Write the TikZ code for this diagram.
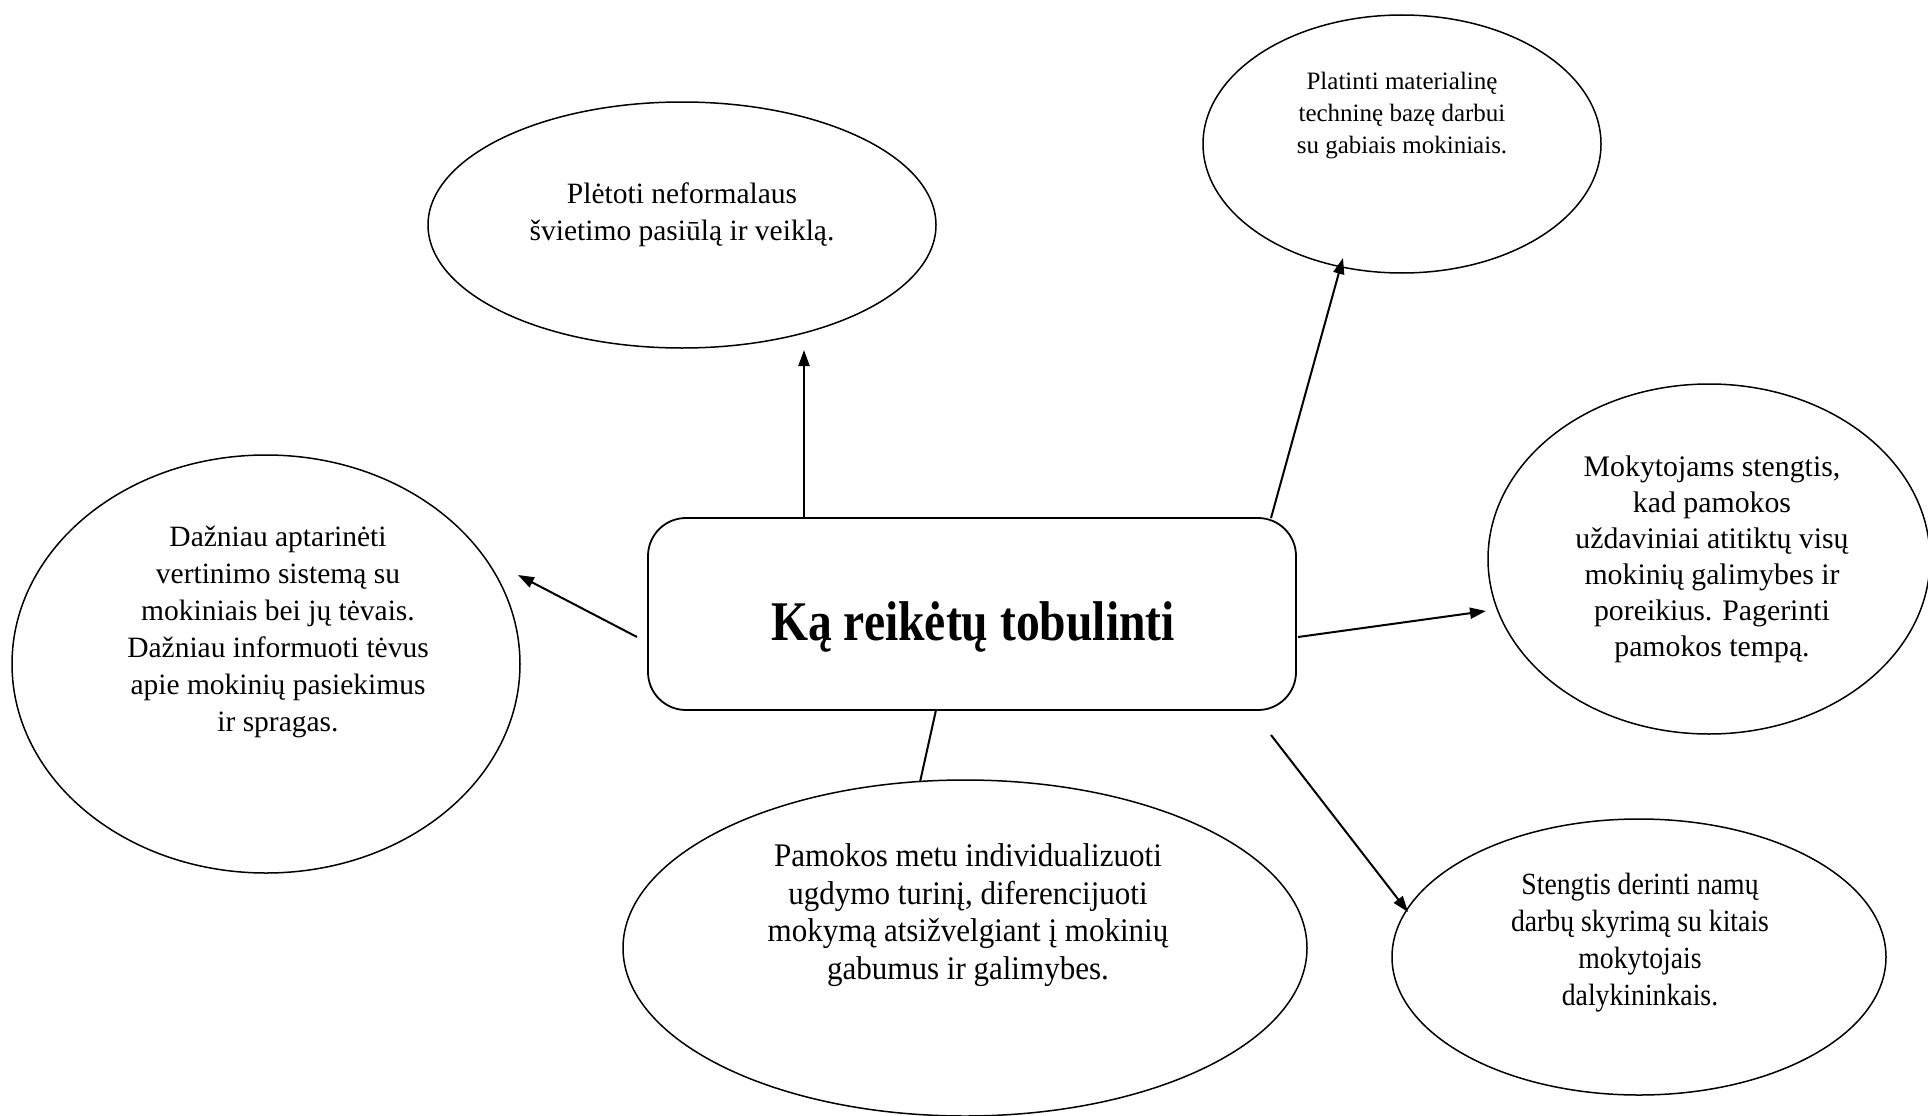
\documentclass[tikz,border=0pt]{standalone}
\usepackage{fontspec}
\setmainfont{Liberation Serif}
\newfontfamily\titlefont[FakeStretch=0.85]{Liberation Serif}
\newfontfamily\condA[FakeStretch=0.94]{Liberation Serif}
\newfontfamily\condB[FakeStretch=0.9]{Liberation Serif}
\usetikzlibrary{shapes.geometric,arrows.meta}
\begin{document}
\begin{tikzpicture}[x=1pt,y=-1pt,
  oval/.style={draw,ellipse,line width=1.5pt,inner sep=0pt},
  txt/.style={align=center,inner sep=0pt,font=\fontsize{29.5}{37}\selectfont},
  arr/.style={line width=2pt,-{Triangle[length=16pt,width=11pt]}},
  plain/.style={line width=2pt}]
\useasboundingbox (0,0) rectangle (1928,1116);
\fill[white] (0,0) rectangle (1928,1116);
% ellipses
\node[oval,minimum width=508pt,minimum height=246pt] (tl) at (682,225) {};
\node[oval,minimum width=398pt,minimum height=258pt] (tr) at (1402,144) {};
\node[oval,minimum width=442pt,minimum height=350pt] (r) at (1709,559) {};
\node[oval,minimum width=494pt,minimum height=276pt] (br) at (1639,957) {};
\node[oval,minimum width=684pt,minimum height=336pt] (b) at (965,948) {};
\node[oval,minimum width=508pt,minimum height=418pt] (l) at (266,664) {};
% centre
\node[draw,rounded corners=38pt,line width=1.8pt,minimum width=648pt,minimum height=192pt,inner sep=0pt] (c) at (972,614) {};
\node[inner sep=0pt,font=\titlefont\bfseries\fontsize{56}{60}\selectfont] (ct) at (973,627) {Ką reikėtų tobulinti};
% texts
\node[txt] (tlt) at (682,215) {Plėtoti neformalaus\\švietimo pasiūlą ir veiklą.};
\node[txt,font=\fontsize{25}{32}\selectfont] (trt) at (1402,115.5) {Platinti materialinę\\techninę bazę darbui\\su gabiais mokiniais.};
\node[txt,font=\fontsize{29.8}{36}\selectfont] (rt) at (1712,559) {Mokytojams stengtis,\\kad pamokos\\uždaviniai atitiktų visų\\mokinių galimybes ir\\poreikius. Pagerinti\\pamokos tempą.};
\node[txt] (lt) at (278,632) {Dažniau aptarinėti\\vertinimo sistemą su\\mokiniais bei jų tėvais.\\Dažniau informuoti tėvus\\apie mokinių pasiekimus\\ir spragas.};
\node[txt,font=\condA\fontsize{33}{37.7}\selectfont] (bt) at (968,915) {Pamokos metu individualizuoti\\ugdymo turinį, diferencijuoti\\mokymą atsižvelgiant į mokinių\\gabumus ir galimybes.};
\node[txt,font=\condB\fontsize{30.8}{37}\selectfont] (brt) at (1640,943) {Stengtis derinti namų\\darbų skyrimą su kitais\\mokytojais\\dalykininkais.};
% connector end points
\coordinate (a1s) at (804,517);
\coordinate (a1e) at (804,350);
\coordinate (a2s) at (1271,518);
\coordinate (a2e) at (1343,258);
\coordinate (a3s) at (1298,637);
\coordinate (a3e) at (1486,611);
\coordinate (a4s) at (1271,735);
\coordinate (a4e) at (1408,912);
\coordinate (a5s) at (637,637);
\coordinate (a5e) at (518,575);
\coordinate (a6s) at (936,710);
\coordinate (a6e) at (920,782);
\draw[arr] (a1s) -- (a1e);
\draw[arr] (a2s) -- (a2e);
\draw[arr] (a3s) -- (a3e);
\draw[arr] (a4s) -- (a4e);
\draw[arr] (a5s) -- (a5e);
\draw[plain] (a6s) -- (a6e);
\end{tikzpicture}
\end{document}
